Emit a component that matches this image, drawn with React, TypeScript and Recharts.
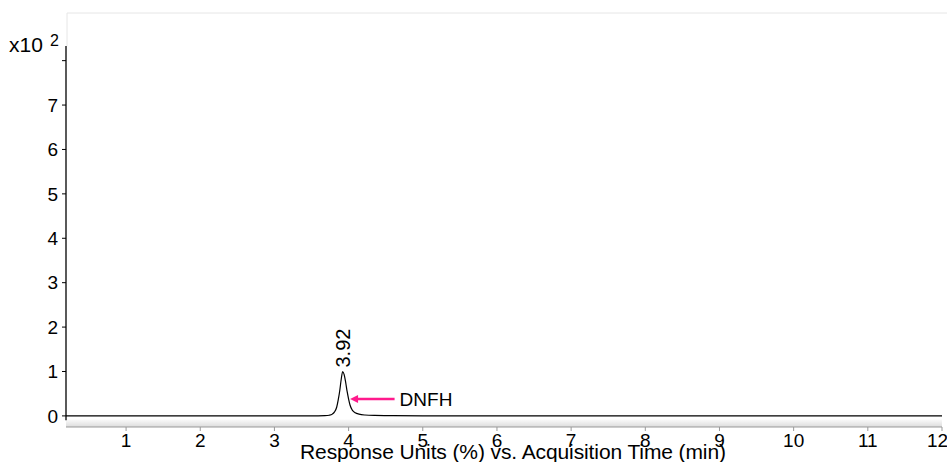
import React from 'react';
import {
    LineChart,
    Line,
    XAxis,
    YAxis,
    ReferenceLine,
    ReferenceDot,
    ReferenceArea,
    Customized,
} from 'recharts';

// Chromatogram trace, response in units of x10^2 (%)
const times = [
    0.19, 1, 2, 3, 3.5, 3.68, 3.74, 3.78, 3.81, 3.84, 3.86, 3.88, 3.9, 3.92,
    3.94, 3.96, 3.98, 4.0, 4.02, 4.05, 4.09, 4.14, 4.22, 4.35, 4.6, 5, 6, 8, 10, 12,
];
const response = [
    0, 0, 0, 0, 0, 0.004, 0.015, 0.04, 0.09, 0.2, 0.36, 0.56, 0.82, 1.0,
    0.93, 0.76, 0.55, 0.38, 0.24, 0.13, 0.07, 0.04, 0.02, 0.01, 0.005, 0.002, 0, 0, 0, 0,
];

const xTicks = [1, 2, 3, 4, 5, 6, 7, 8, 9, 10, 11, 12];
const yTicks = [0, 1, 2, 3, 4, 5, 6, 7, 8];

const peakTime = 3.92;
const peakHeight = 1.0;
const peakLabel = '3.92';
const compoundName = 'DNFH';
const arrowFrom = { x: 4.62, y: 0.38 };
const arrowTo = { x: 4.02, y: 0.38 };

const xMin = 0.19;
const xMax = 12;
const yMin = -0.25;
const yMax = 8.33;

const FONT = '"Liberation Sans", Arial, sans-serif';
const PINK = '#ff1a8c';

const data = times.map((t, i) => ({ t, v: response[i] }));

// Frame, multiplier and axis title
const Decor = () => (
    <g fontFamily={FONT}>
        <defs>
            <linearGradient id="baseShade" x1="0" y1="0" x2="0" y2="1">
                <stop offset="0%" stopColor="#fafafa" />
                <stop offset="100%" stopColor="#dcdcdc" />
            </linearGradient>
        </defs>
        <line x1={67} y1={13} x2={947} y2={13} stroke="#e6e6e6" />
        <line x1={67} y1={13} x2={67} y2={46} stroke="#e6e6e6" />
        <text x={9} y={52} fontSize={21} fill="#000">x10</text>
        <text x={50} y={46} fontSize={16} fill="#000">2</text>
        <text
            x={300}
            y={459}
            fontSize={21}
            fill="#000"
            textLength={426}
            lengthAdjust="spacing"
        >
            Response Units (%) vs. Acquisition Time (min)
        </text>
    </g>
);

const Arrow = (props: any) => {
    const { x1, y1, x2, y2 } = props;
    return (
        <g>
            <line x1={x1} y1={y1} x2={x2 + 6} y2={y2} stroke={PINK} strokeWidth={2.5} />
            <polygon points={`${x2},${y2} ${x2 + 8},${y2 - 4} ${x2 + 8},${y2 + 4}`} fill={PINK} />
            <text x={x1 + 5} y={y1 + 7} fontSize={19} fontFamily={FONT} fill="#000">
                {compoundName}
            </text>
        </g>
    );
};

const PeakLabel = (props: any) => {
    const { viewBox } = props;
    const x = viewBox.x + (viewBox.width || 0) / 2;
    const y = viewBox.y - 4;
    return (
        <text
            x={x}
            y={y}
            transform={`rotate(-90 ${x} ${y})`}
            fontSize={20}
            fontFamily={FONT}
            fill="#000"
            dy="0.35em"
        >
            {peakLabel}
        </text>
    );
};

export default function App() {
    return (
        <div style={{ position: 'absolute', left: 0, top: 0, background: '#fff' }}>
            <LineChart
                width={947}
                height={462}
                data={data}
                margin={{ top: 46, right: 5, bottom: 0, left: 0 }}
            >
                <Customized component={Decor} />
                <ReferenceArea
                    x1={xMin}
                    x2={xMax}
                    y1={yMin}
                    y2={-0.08}
                    fill="url(#baseShade)"
                    fillOpacity={1}
                    stroke="none"
                />
                <XAxis
                    type="number"
                    dataKey="t"
                    domain={[xMin, xMax]}
                    ticks={xTicks}
                    allowDataOverflow
                    height={35}
                    tickSize={4}
                    tickMargin={3}
                    stroke="#999"
                    tick={{ fill: '#000', fontSize: 19, fontFamily: FONT }}
                />
                <YAxis
                    type="number"
                    domain={[yMin, yMax]}
                    ticks={yTicks}
                    allowDataOverflow
                    width={66}
                    axisLine={false}
                    tickSize={4}
                    tickMargin={4}
                    tickLine={{ stroke: '#000' }}
                    tickFormatter={(v: number) => (v === 8 ? '' : String(v))}
                    tick={{ fill: '#000', fontSize: 19, fontFamily: FONT }}
                />
                <ReferenceLine
                    segment={[{ x: xMin, y: -0.1 }, { x: xMin, y: yMax }]}
                    stroke="#000"
                    strokeWidth={1.3}
                />
                <Line
                    type="monotone"
                    dataKey="v"
                    stroke="#000"
                    strokeWidth={1.2}
                    dot={false}
                    isAnimationActive={false}
                />
                <ReferenceDot
                    x={peakTime}
                    y={peakHeight}
                    r={0}
                    fill="none"
                    stroke="none"
                    label={<PeakLabel />}
                />
                <ReferenceLine
                    segment={[arrowFrom, arrowTo]}
                    shape={<Arrow />}
                />
            </LineChart>
        </div>
    );
}
